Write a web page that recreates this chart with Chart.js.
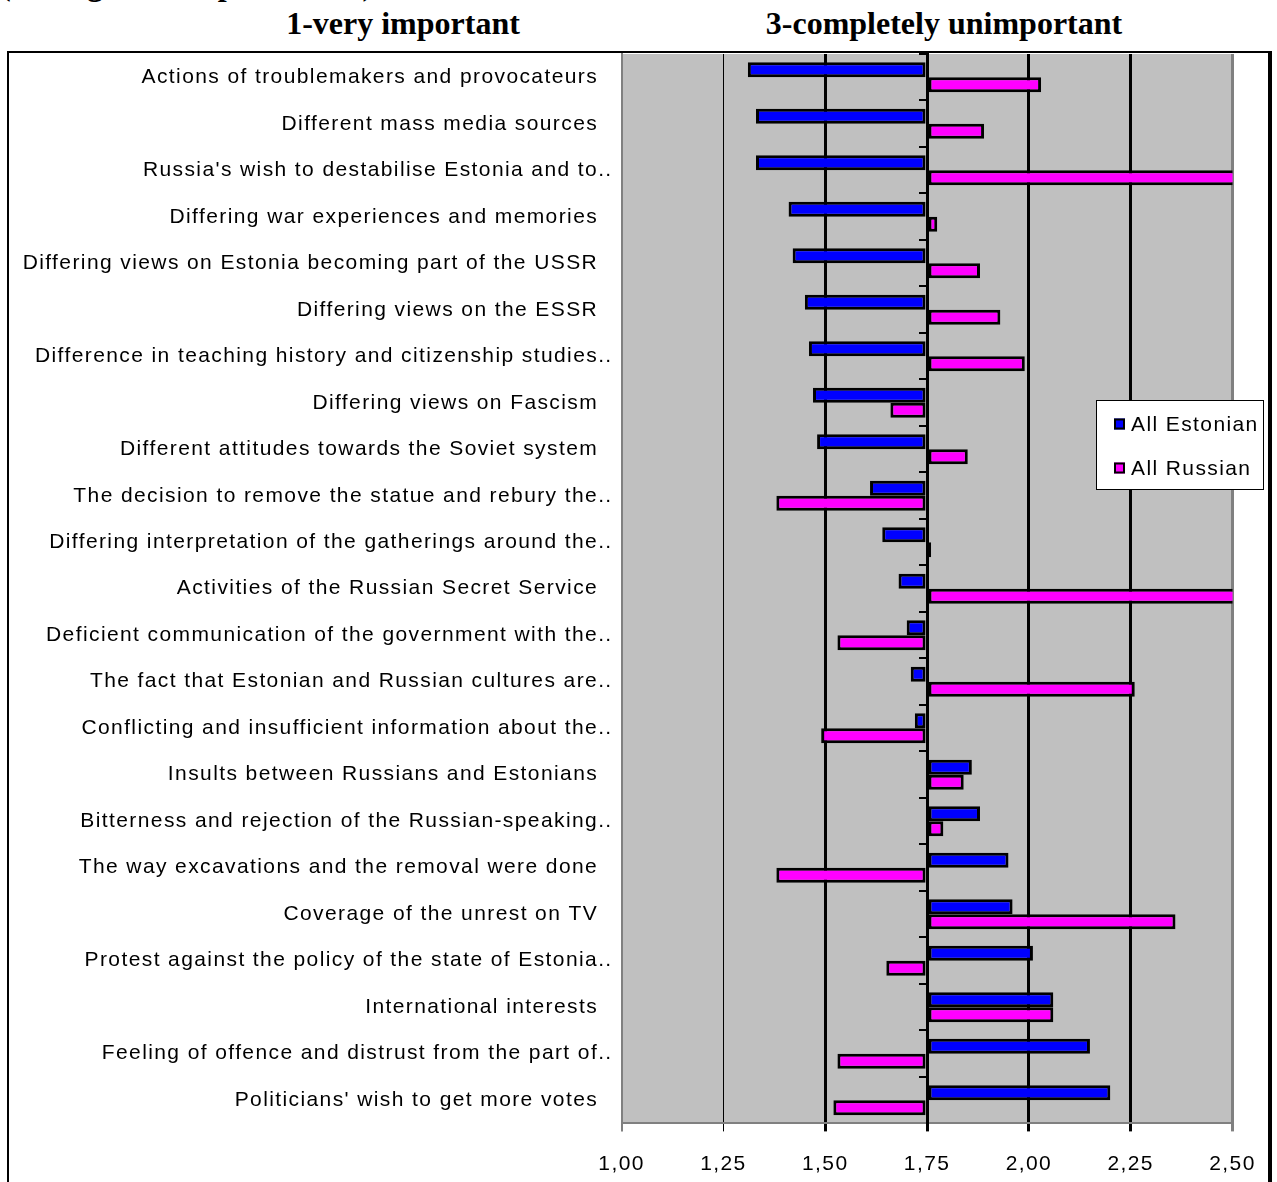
<!DOCTYPE html>
<html>
<head>
<meta charset="utf-8">
<script src="https://cdn.jsdelivr.net/npm/chart.js@4/dist/chart.umd.min.js"></script>
<style>
  html, body { margin: 0; padding: 0; background: #fff; overflow: hidden; width: 1277px; height: 1182px; position: relative; }
  .head { position: absolute; font: bold 32px "Liberation Serif", "Times New Roman", serif; line-height: 32px; white-space: nowrap; color: #000; }
  .centered { width: 600px; text-align: center; }
  #frame { position: absolute; left: 7px; top: 51px; border-left: 2px solid #000; border-top: 2px solid #000; border-right: 4px solid #000; width: 1259px; height: 1140px; }
  #frame canvas { display: block; }
</style>
</head>
<body>
<div class="head" style="left:0px; top:-32px;">(average on a 3-point scale)</div>
<div class="head centered" style="left:103px; top:7px;">1-very important</div>
<div class="head centered" style="left:644px; top:7px;">3-completely unimportant</div>
<div id="frame"><canvas id="chart" width="1259" height="1129"></canvas></div>
<script>
// Reasons for the unrest, mean score per group (1 = very important, 3 = completely unimportant)
const categories = [
  "Actions of troublemakers and provocateurs  ",
  "Different mass media sources  ",
  "Russia's wish to destabilise Estonia and to..",
  "Differing war experiences and memories  ",
  "Differing views on Estonia becoming part of the USSR  ",
  "Differing views on the ESSR  ",
  "Difference in teaching history and citizenship studies..",
  "Differing views on Fascism  ",
  "Different attitudes towards the Soviet system  ",
  "The decision to remove the statue and rebury the..",
  "Differing interpretation of the gatherings around the..",
  "Activities of the Russian Secret Service  ",
  "Deficient communication of the government with the..",
  "The fact that Estonian and Russian cultures are..",
  "Conflicting and insufficient information about the..",
  "Insults between Russians and Estonians  ",
  "Bitterness and rejection of the Russian-speaking..",
  "The way excavations and the removal were done  ",
  "Coverage of the unrest on TV  ",
  "Protest against the policy of the state of Estonia..",
  "International interests  ",
  "Feeling of offence and distrust from the part of..",
  "Politicians' wish to get more votes  "
];

const allEstonian = [1.31, 1.33, 1.33, 1.41, 1.42, 1.45, 1.46, 1.47, 1.48, 1.61, 1.64, 1.68,
                     1.70, 1.71, 1.72, 1.86, 1.88, 1.95, 1.96, 2.01, 2.06, 2.15, 2.20];
const allRussian  = [2.03, 1.89, 2.51, 1.775, 1.88, 1.93, 1.99, 1.66, 1.85, 1.38, 1.76, 2.51,
                     1.53, 2.26, 1.49, 1.84, 1.79, 1.38, 2.36, 1.65, 2.06, 1.53, 1.52];

const seriesNames = ["All Estonian", "All Russian"];
const seriesColors = ["#0000FF", "#FF00FF"];

// value axis: 1,00 ... 2,50, bars grow out of the midpoint 1,75
const axisMin = 1.0;
const axisMax = 2.5;
const axisStep = 0.25;
const baseValue = 1.75;

const labelFont = { family: '"Liberation Sans", Arial, sans-serif', size: 21 };
const letterGap = '1.4px';

// wider letter spacing for all canvas text
const spacing = {
  id: 'spacing',
  beforeLayout(chart) { chart.ctx.letterSpacing = letterGap; },
  beforeDraw(chart) { chart.ctx.letterSpacing = letterGap; }
};

// grey plot background
const plotBackground = {
  id: 'plotBackground',
  beforeDraw(chart) {
    const { ctx, chartArea: a } = chart;
    ctx.save();
    ctx.fillStyle = '#C0C0C0';
    ctx.fillRect(a.left, a.top, a.right - a.left, a.bottom - a.top);
    ctx.restore();
  }
};

// boxed legend sitting on the right side of the plot
const boxLegend = {
  id: 'boxLegend',
  afterDraw(chart, args, o) {
    const ctx = chart.ctx;
    ctx.save();
    ctx.fillStyle = '#fff';
    ctx.fillRect(o.left, o.top, o.width, o.height);
    ctx.strokeStyle = '#000';
    ctx.lineWidth = 1;
    ctx.strokeRect(o.left + 0.5, o.top + 0.5, o.width - 1, o.height - 1);
    ctx.font = `${labelFont.size}px ${labelFont.family}`;
    ctx.textBaseline = 'middle';
    ctx.textAlign = 'left';
    chart.data.datasets.forEach((ds, i) => {
      const cy = o.top + o.firstRow + i * o.rowGap;
      ctx.fillStyle = ds.backgroundColor;
      ctx.fillRect(o.markerX, cy - o.marker / 2, o.marker, o.marker);
      ctx.lineWidth = 2;
      ctx.strokeStyle = '#000';
      ctx.strokeRect(o.markerX + 1, cy - o.marker / 2 + 1, o.marker - 2, o.marker - 2);
      ctx.fillStyle = '#000';
      ctx.fillText(ds.label, o.textX, cy + 1);
    });
    ctx.restore();
  }
};

const fmt = v => v.toFixed(2).replace('.', ',');

new Chart(document.getElementById('chart'), {
  type: 'bar',
  data: {
    labels: categories,
    datasets: [allEstonian, allRussian].map((vals, i) => ({
      label: seriesNames[i],
      data: vals,
      base: baseValue,
      backgroundColor: seriesColors[i],
      borderColor: '#000',
      borderWidth: 3,
      borderSkipped: false,
      categoryPercentage: 0.645,
      barPercentage: 1.0
    }))
  },
  options: {
    indexAxis: 'y',
    responsive: false,
    animation: false,
    layout: { padding: { top: 1, right: 35.5, bottom: 0, left: 0 } },
    scales: {
      x: {
        type: 'linear',
        min: axisMin,
        max: axisMax,
        ticks: {
          stepSize: axisStep,
          callback: v => fmt(v),
          color: '#000',
          font: labelFont,
          padding: 20,
          maxRotation: 0,
          autoSkip: false
        },
        grid: {
          color: c => (c.tick && (c.tick.value === axisMin || c.tick.value === axisMax)) ? '#808080' : '#000',
          lineWidth: c => {
            const v = c.tick ? c.tick.value : 0;
            if (v === 1.25) return 1;
            if (v === axisMin) return 2;
            return 3;
          },
          tickLength: 8
        },
        border: { display: true, color: '#808080', width: 2 },
        afterFit: s => { s.height = 58.6; s.paddingLeft = 0; s.paddingRight = 0; }
      },
      y: {
        type: 'category',
        offset: true,
        grid: { display: false, drawTicks: false },
        border: { display: true, color: '#808080', width: 2 },
        ticks: { color: '#000', font: labelFont, padding: 9, autoSkip: false },
        afterFit: s => { s.width = 612.6; s.paddingTop = 0; s.paddingBottom = 0; }
      },
      // category axis crossing the value axis at 1,75
      y2: {
        type: 'category',
        position: { x: baseValue },
        offset: true,
        grid: { offset: true, drawOnChartArea: false, drawTicks: true, tickLength: 7, color: '#000', lineWidth: 2 },
        border: { display: true, color: '#000', width: 3 },
        ticks: { display: false }
      }
    },
    plugins: {
      legend: { display: false },
      tooltip: { enabled: false },
      boxLegend: { left: 1087, top: 347, width: 168, height: 90, firstRow: 24, rowGap: 44, marker: 11, markerX: 1105, textX: 1122 }
    }
  },
  plugins: [spacing, plotBackground, boxLegend]
});
</script>
</body>
</html>
